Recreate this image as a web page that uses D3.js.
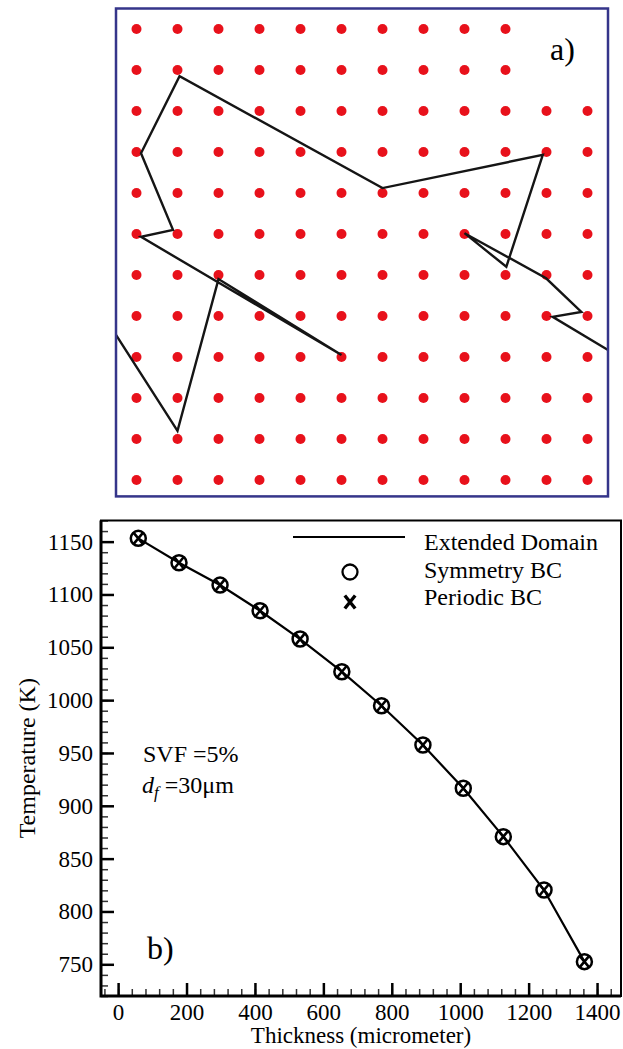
<!DOCTYPE html>
<html>
<head>
<meta charset="utf-8">
<script src="https://cdn.jsdelivr.net/npm/d3@7"></script>
<style>
  html, body { margin: 0; padding: 0; background: #fff; }
  svg { display: block; font-family: "Liberation Serif", "Times New Roman", serif; }
</style>
</head>
<body>
<div id="chart"></div>
<script>
// ---- panel a) : fibre grid and random walk (grid units) ----
const gridCols = d3.range(12);
const gridRows = d3.range(12);
// cells hidden behind the "a)" label box [col, row]
const hiddenCells = [[10, 0], [11, 0], [10, 1], [11, 1]];
const walkX = [-0.5, 1.0, 2.0, 5.0, 0.11, 0.89, 0.11, 1.05, 6.0, 9.91, 9.02, 8.0, 9.99, 10.85, 10.15, 11.5];
const walkY = [7.46, 9.8, 6.1, 7.95, 5.07, 4.9, 3.03, 1.15, 3.88, 3.07, 5.8, 4.98, 6.08, 6.9, 7.02, 7.83];

// ---- panel b) : temperature profile ----
const thickness = [59, 178, 298, 415, 532, 654, 770, 891, 1009, 1126, 1245, 1363];
const tempExtended = [1153.1, 1130.0, 1108.9, 1084.6, 1057.8, 1026.9, 994.7, 957.5, 916.6, 870.8, 820.3, 752.5];
const tempSymmetry = [1153.1, 1130.0, 1108.9, 1084.6, 1057.8, 1026.9, 994.7, 957.5, 916.6, 870.8, 820.3, 752.5];
const tempPeriodic = [1153.1, 1130.0, 1108.9, 1084.6, 1057.8, 1026.9, 994.7, 957.5, 916.6, 870.8, 820.3, 752.5];
const xTicks = [0, 200, 400, 600, 800, 1000, 1200, 1400];
const yTicks = [750, 800, 850, 900, 950, 1000, 1050, 1100, 1150];
const legendLabels = ['Extended Domain', 'Symmetry BC', 'Periodic BC'];

const W = 623, H = 1049;
const svg = d3.select('#chart').append('svg')
  .attr('width', W).attr('height', H);
svg.append('rect').attr('width', W).attr('height', H).attr('fill', '#fff');

// ===== panel a =====
const gx = d3.scaleLinear().domain([-0.5, 11.5]).range([116, 608]);
const gy = d3.scaleLinear().domain([-0.5, 11.4]).range([8.5, 496.4]);
const panelA = svg.append('g');

const dots = [];
gridRows.forEach(r => gridCols.forEach(c => {
  if (!hiddenCells.some(h => h[0] === c && h[1] === r)) dots.push([c, r]);
}));
panelA.selectAll('circle.fibre')
  .data(dots)
  .enter().append('circle')
  .attr('class', 'fibre')
  .attr('cx', d => gx(d[0]))
  .attr('cy', d => gy(d[1]))
  .attr('r', 5)
  .attr('fill', '#e8111b');

const walkLine = d3.line().x(d => gx(d[0])).y(d => gy(d[1]));
panelA.append('path')
  .attr('d', walkLine(d3.zip(walkX, walkY)))
  .attr('fill', 'none')
  .attr('stroke', '#151515')
  .attr('stroke-width', 2.4)
  .attr('stroke-linejoin', 'miter');

panelA.append('rect')
  .attr('x', gx(-0.5)).attr('y', gy(-0.5))
  .attr('width', gx(11.5) - gx(-0.5))
  .attr('height', gy(11.4) - gy(-0.5))
  .attr('fill', 'none')
  .attr('stroke', '#35358a')
  .attr('stroke-width', 2.5);

panelA.append('text')
  .attr('x', 550).attr('y', 60)
  .attr('font-size', 32)
  .text('a)');

// ===== panel b =====
const m = { left: 101, right: 621, top: 520.5, bottom: 996 };
const x = d3.scaleLinear().domain([-50, 1470]).range([m.left, m.right]);
const y = d3.scaleLinear().domain([720, 1170]).range([m.bottom, m.top]);
const plot = svg.append('g');

// minor ticks
plot.append('g')
  .attr('transform', `translate(${m.left},0)`)
  .call(d3.axisLeft(y).tickValues(d3.range(720, 1171, 10)).tickFormat('').tickSizeInner(-7).tickSizeOuter(0))
  .call(g => g.select('.domain').remove())
  .call(g => g.selectAll('line').attr('stroke-width', 1.5).attr('stroke', '#333'));
plot.append('g')
  .attr('transform', `translate(0,${m.bottom})`)
  .call(d3.axisBottom(x).tickValues(d3.range(-40, 1470, 40)).tickFormat('').tickSizeInner(-7).tickSizeOuter(0))
  .call(g => g.select('.domain').remove())
  .call(g => g.selectAll('line').attr('stroke-width', 1.5).attr('stroke', '#333'));

// major ticks + labels
plot.append('g')
  .attr('transform', `translate(${m.left},0)`)
  .call(d3.axisLeft(y).tickValues(yTicks).tickFormat(d3.format('d')).tickSizeInner(-13).tickSizeOuter(0).tickPadding(8))
  .call(g => g.select('.domain').remove())
  .call(g => g.selectAll('line').attr('stroke-width', 2.5).attr('stroke', '#000'))
  .call(g => g.selectAll('text').attr('font-size', 23).attr('font-family', 'Liberation Serif').attr('fill', '#000'));
plot.append('g')
  .attr('transform', `translate(0,${m.bottom})`)
  .call(d3.axisBottom(x).tickValues(xTicks).tickFormat(d3.format('d')).tickSizeInner(-13).tickSizeOuter(0).tickPadding(8))
  .call(g => g.select('.domain').remove())
  .call(g => g.selectAll('line').attr('stroke-width', 2.5).attr('stroke', '#000'))
  .call(g => g.selectAll('text').attr('font-size', 23).attr('font-family', 'Liberation Serif').attr('fill', '#000'));

// frame
plot.append('rect')
  .attr('x', m.left).attr('y', m.top)
  .attr('width', m.right - m.left).attr('height', m.bottom - m.top)
  .attr('fill', 'none').attr('stroke', '#000').attr('stroke-width', 2);
plot.append('path')
  .attr('d', `M${m.left},${m.top}V${m.bottom}H${m.right}`)
  .attr('fill', 'none').attr('stroke', '#000').attr('stroke-width', 3);

// line
const tLine = d3.line().x(d => x(d[0])).y(d => y(d[1]));
plot.append('path')
  .attr('d', tLine(d3.zip(thickness, tempExtended)))
  .attr('fill', 'none').attr('stroke', '#000').attr('stroke-width', 2.2);

// markers
const xMark = (sx, sy) => `M${-sx},${-sy}L${sx},${sy}M${sx},${-sy}L${-sx},${sy}`;
plot.selectAll('circle.sym')
  .data(d3.zip(thickness, tempSymmetry))
  .enter().append('circle')
  .attr('class', 'sym')
  .attr('cx', d => x(d[0])).attr('cy', d => y(d[1]))
  .attr('r', 7.5)
  .attr('fill', 'none').attr('stroke', '#000').attr('stroke-width', 2.5);
plot.selectAll('path.per')
  .data(d3.zip(thickness, tempPeriodic))
  .enter().append('path')
  .attr('class', 'per')
  .attr('transform', d => `translate(${x(d[0])},${y(d[1])})`)
  .attr('d', xMark(5, 6))
  .attr('stroke', '#000').attr('stroke-width', 2.6);

// legend
const leg = plot.append('g');
leg.append('line')
  .attr('x1', 293).attr('x2', 405).attr('y1', 537).attr('y2', 537)
  .attr('stroke', '#000').attr('stroke-width', 2);
leg.append('circle')
  .attr('cx', 350).attr('cy', 572).attr('r', 7.5)
  .attr('fill', 'none').attr('stroke', '#000').attr('stroke-width', 2.3);
leg.append('path')
  .attr('transform', 'translate(350,602)')
  .attr('d', xMark(5.2, 6.5))
  .attr('stroke', '#000').attr('stroke-width', 3.4);
leg.selectAll('text')
  .data(legendLabels)
  .enter().append('text')
  .attr('x', 424)
  .attr('y', (d, i) => 550 + i * 27.5)
  .attr('font-size', 24)
  .text(d => d);

// annotations
plot.append('text')
  .attr('x', 143).attr('y', 762)
  .attr('font-size', 24)
  .text('SVF =5%');
const df = plot.append('text')
  .attr('x', 142).attr('y', 793)
  .attr('font-size', 24);
df.append('tspan').attr('font-style', 'italic').text('d');
df.append('tspan').attr('font-style', 'italic').attr('font-size', 17).attr('dy', 5).text('f');
df.append('tspan').attr('dy', -5).text(' =30μm');

plot.append('text')
  .attr('x', 147).attr('y', 959)
  .attr('font-size', 32)
  .text('b)');

// axis titles
plot.append('text')
  .attr('x', (m.left + m.right) / 2).attr('y', 1043)
  .attr('text-anchor', 'middle')
  .attr('font-size', 23)
  .text('Thickness (micrometer)');
plot.append('text')
  .attr('transform', `translate(35,${(m.top + m.bottom) / 2}) rotate(-90)`)
  .attr('text-anchor', 'middle')
  .attr('font-size', 24)
  .text('Temperature (K)');
</script>
</body>
</html>
